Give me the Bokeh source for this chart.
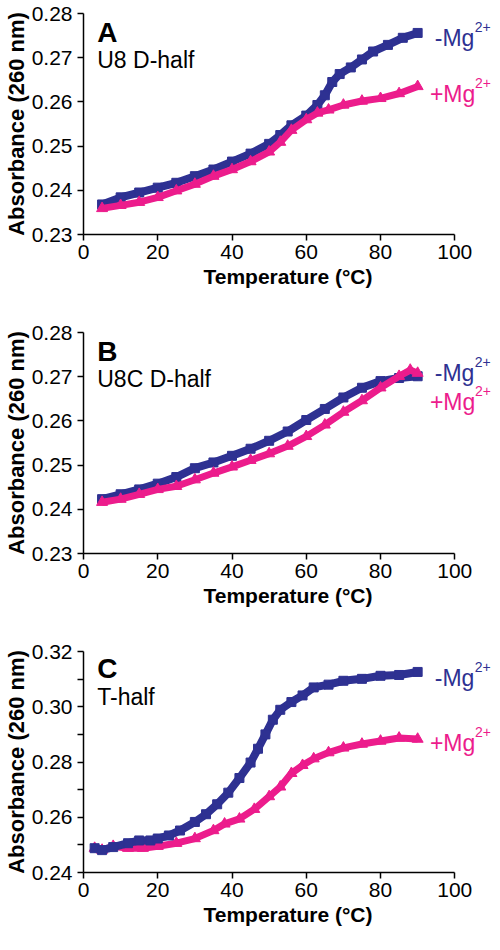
from bokeh.plotting import figure
from bokeh.layouts import column
from bokeh.models import Range1d, Label, FixedTicker, NumeralTickFormatter
from bokeh.embed import file_html
from bokeh.resources import INLINE

NAVY = "#2E3192"
PINK = "#EC1C8C"
FONT = "Liberation Sans"

# ---------------- data ----------------
# Panel A : U8 D-half
a_minus_t = [5, 10, 15, 20, 25, 30, 35, 40, 45, 50, 53, 56, 60, 63, 65, 67, 69, 72, 75, 78, 82, 86, 90]
a_minus_v = [0.2368, 0.2384, 0.2395, 0.2406, 0.2417, 0.2432, 0.2447, 0.2465, 0.2483, 0.2505, 0.2525,
             0.2547, 0.2569, 0.2593, 0.2615, 0.2645, 0.2663, 0.2678, 0.2696, 0.2714, 0.2729, 0.2745, 0.2756]
a_plus_t = [5, 10, 15, 20, 25, 30, 35, 40, 45, 50, 53, 56, 60, 63, 66, 70, 75, 80, 85, 90]
a_plus_v = [0.2359, 0.2366, 0.2373, 0.2384, 0.2399, 0.2414, 0.2432, 0.2447, 0.2465, 0.2487, 0.2509,
            0.2536, 0.2560, 0.2575, 0.2582, 0.2593, 0.2602, 0.2608, 0.2619, 0.2635]

# Panel B : U8C D-half
b_minus_t = [5, 10, 15, 20, 25, 30, 35, 40, 45, 50, 55, 60, 65, 70, 75, 80, 85, 90]
b_minus_v = [0.2423, 0.2434, 0.2445, 0.2458, 0.2473, 0.2493, 0.2506, 0.2521, 0.2537, 0.2555, 0.2576,
             0.2602, 0.2627, 0.2653, 0.2675, 0.2690, 0.2697, 0.2701]
b_plus_t = [5, 10, 15, 20, 25, 30, 35, 40, 45, 50, 55, 60, 65, 70, 75, 80, 85, 88, 90]
b_plus_v = [0.2416, 0.2423, 0.2434, 0.2445, 0.2452, 0.2467, 0.2482, 0.2496, 0.2511, 0.2526, 0.2543,
            0.2565, 0.2591, 0.2620, 0.2646, 0.2675, 0.2701, 0.2715, 0.2708]

# Panel C : T-half
c_minus_t = [3, 5, 8, 12, 15, 18, 20, 23, 26, 30, 33, 36, 39, 42, 45, 47, 49, 51, 53, 56, 59, 62,
             66, 70, 75, 80, 85, 90]
c_minus_v = [0.2488, 0.2481, 0.2492, 0.2506, 0.2516, 0.2516, 0.2523, 0.2534, 0.2552, 0.2583, 0.2611,
             0.2647, 0.2689, 0.2742, 0.2798, 0.2848, 0.2900, 0.2953, 0.2989, 0.3017, 0.3041, 0.3070,
             0.3080, 0.3094, 0.3101, 0.3112, 0.3115, 0.3126]
c_plus_t = [3, 5, 8, 12, 16, 20, 25, 30, 35, 38, 42, 46, 50, 53, 56, 59, 62, 66, 70, 75, 80, 85, 90]
c_plus_v = [0.2488, 0.2481, 0.2495, 0.2488, 0.2488, 0.2495, 0.2506, 0.2523, 0.2552, 0.2576, 0.2594,
            0.2629, 0.2675, 0.2710, 0.2759, 0.2788, 0.2812, 0.2834, 0.2851, 0.2865, 0.2876, 0.2887,
            0.2883]

x_ticks = [0, 20, 40, 60, 80, 100]
ab_y_ticks = [0.23, 0.24, 0.25, 0.26, 0.27, 0.28]
c_y_ticks = [0.24, 0.26, 0.28, 0.30, 0.32]
c_y_minor = [0.25, 0.27, 0.29, 0.31]

x_label = "Temperature (°C)"
y_label = "Absorbance (260 nm)"

# x 0..100 spans 374 px; the frame runs on to the right edge so the series
# labels are not clipped (the axis line itself is bounded to 0..100)
WIDTH = 492
LEFT = 80
X_END = (WIDTH - LEFT) / 3.74


def make_panel(height, top, bottom, y_range, y_ticks, y_minor, letter, name,
               minus_t, minus_v, plus_t, plus_v, letter_y, name_y, minus_y, plus_y,
               navy_on_top=False):
    p = figure(width=WIDTH, height=height, output_backend="svg", toolbar_location=None,
               x_range=Range1d(0, X_END), y_range=Range1d(*y_range),
               min_border_left=LEFT, min_border_right=0, min_border_top=top,
               min_border_bottom=bottom)
    p.outline_line_color = None
    p.xgrid.visible = False
    p.ygrid.visible = False
    p.background_fill_color = "white"
    p.border_fill_color = "white"

    p.xaxis.ticker = FixedTicker(ticks=x_ticks)
    p.xaxis.bounds = (0, 100)
    p.yaxis.ticker = FixedTicker(ticks=y_ticks, minor_ticks=y_minor)
    p.yaxis.formatter = NumeralTickFormatter(format="0.00")
    for ax in (p.xaxis, p.yaxis):
        ax.axis_line_width = 1.5
        ax.axis_line_color = "black"
        ax.major_tick_line_width = 1.5
        ax.major_tick_line_color = "black"
        ax.minor_tick_line_width = 1.5
        ax.minor_tick_line_color = "black"
        ax.major_tick_out = 6
        ax.major_tick_in = 0
        ax.minor_tick_out = 6
        ax.minor_tick_in = 0
        ax.major_label_text_font = FONT
        ax.major_label_text_font_size = "21px"
        ax.major_label_text_color = "black"
        ax.axis_label_text_font = FONT
        ax.axis_label_text_font_style = "bold"
        ax.axis_label_text_color = "black"
    p.xaxis.minor_tick_line_color = None
    p.xaxis.axis_label = x_label
    p.xaxis.axis_label_text_font_size = "21px"
    p.xaxis.major_label_standoff = 4
    p.xaxis.axis_label_standoff = 3
    p.yaxis.axis_label = y_label
    p.yaxis.axis_label_text_font_size = "22px"
    p.yaxis.major_label_standoff = 5
    p.yaxis.axis_label_standoff = 0

    def draw_navy():
        p.line(minus_t, minus_v, line_color=NAVY, line_width=8)
        p.scatter(minus_t, minus_v, marker="square", size=9, fill_color=NAVY, line_color=NAVY)

    def draw_pink():
        p.line(plus_t, plus_v, line_color=PINK, line_width=7)
        p.scatter(plus_t, plus_v, marker="triangle", size=11, fill_color=PINK, line_color=PINK)

    if navy_on_top:
        draw_pink()
        draw_navy()
    else:
        draw_navy()
        draw_pink()

    p.add_layout(Label(x=3.7, y=letter_y, text=letter, text_font=FONT, text_font_size="28px",
                       text_font_style="bold", text_color="black", text_baseline="alphabetic"))
    p.add_layout(Label(x=3.7, y=name_y, text=name, text_font=FONT, text_font_size="23px",
                       text_color="black", text_baseline="alphabetic"))
    p.add_layout(Label(x=94.6, y=minus_y, text="-Mg", text_font=FONT, text_font_size="23px",
                       text_color=NAVY, text_baseline="alphabetic"))
    p.add_layout(Label(x=94.6, y=minus_y, x_offset=40, y_offset=11, text="2+", text_font=FONT,
                       text_font_size="14px", text_color=NAVY, text_baseline="alphabetic"))
    p.add_layout(Label(x=93.3, y=plus_y, text="+Mg", text_font=FONT, text_font_size="23px",
                       text_color=PINK, text_baseline="alphabetic"))
    p.add_layout(Label(x=93.3, y=plus_y, x_offset=45, y_offset=11, text="2+", text_font=FONT,
                       text_font_size="14px", text_color=PINK, text_baseline="alphabetic"))
    return p


pa = make_panel(319, 13, 85, (0.23, 0.28), ab_y_ticks, [], "A", "U8 D-half",
                a_minus_t, a_minus_v, a_plus_t, a_plus_v, 0.2758, 0.2694, 0.2745, 0.2619)
pb = make_panel(319, 13, 85, (0.23, 0.28), ab_y_ticks, [], "B", "U8C D-half",
                b_minus_t, b_minus_v, b_plus_t, b_plus_v, 0.2758, 0.2695, 0.2708, 0.2642)
pc = make_panel(296, 13, 62, (0.24, 0.32), c_y_ticks, c_y_minor, "C", "T-half",
                c_minus_t, c_minus_v, c_plus_t, c_plus_v, 0.3140, 0.3034, 0.3105, 0.2869,
                navy_on_top=True)

layout = column(pa, pb, pc, spacing=0)
open("out.html", "w").write(file_html(layout, INLINE))
